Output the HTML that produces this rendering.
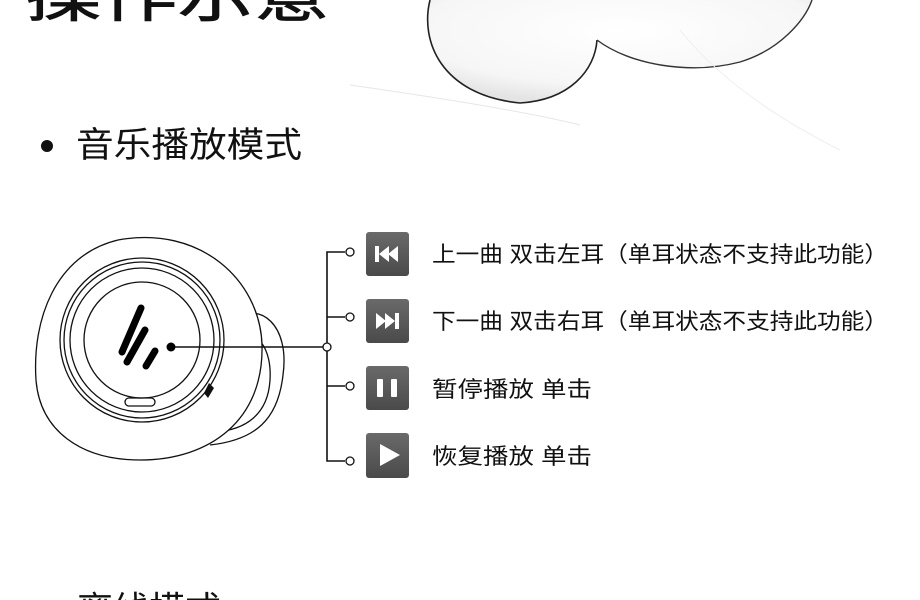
<!DOCTYPE html>
<html><head><meta charset="utf-8"><style>
html,body{margin:0;padding:0;background:#fff;overflow:hidden;}
body{width:920px;height:600px;overflow:hidden;position:relative;font-family:"Liberation Sans","Noto Sans CJK SC",sans-serif;}
svg{overflow:hidden;display:block}
</style></head><body>
<svg width="920" height="600" viewBox="0 0 920 600" xmlns="http://www.w3.org/2000/svg" style="position:absolute;left:0;top:0">
<defs>
<linearGradient id="g" x1="0" y1="0" x2="0" y2="1"><stop offset="0" stop-color="#6a6a6a"/><stop offset="1" stop-color="#4a4a4a"/></linearGradient>
<radialGradient id="sk" cx="0.5" cy="0.3" r="0.7"><stop offset="0" stop-color="#fff"/><stop offset="0.75" stop-color="#f6f6f6"/><stop offset="1" stop-color="#e4e4e4"/></radialGradient>
</defs>
<g font-family="Liberation Sans, Noto Sans CJK SC, sans-serif">
<text x="25" y="16" font-size="58" fill="#111" stroke="#111" stroke-width="0.8" textLength="305" lengthAdjust="spacingAndGlyphs">操作示意</text>
<!-- sketch -->
<path d="M430 0 C420 40 440 95 520 103 C570 100 595 70 597 40 C630 65 690 75 740 62 C780 50 805 20 812 0 Z" fill="url(#sk)" stroke="none"/>
<path d="M430 0 C420 40 440 95 520 103 C570 100 595 70 597 40" fill="none" stroke="#222" stroke-width="1.6"/>
<path d="M597 40 C630 65 690 75 740 62 C780 50 805 20 812 0" fill="none" stroke="#333" stroke-width="1.4"/>
<path d="M350 85 C420 95 520 110 580 125" fill="none" stroke="#e6e6e6" stroke-width="1"/>
<path d="M680 30 C720 80 780 120 840 150" fill="none" stroke="#eee" stroke-width="1"/>
<circle cx="47" cy="146" r="6" fill="#111"/>
<text x="76" y="157" font-size="35" fill="#111" textLength="226" lengthAdjust="spacingAndGlyphs">音乐播放模式</text>
<!-- earbud -->
<g fill="none" stroke="#111" stroke-width="1.3">
<path d="M232 320 C260 300 290 325 283 375 C278 420 255 440 210 445" fill="#fff"/>
<path d="M230 335 C258 325 272 350 270 380 C268 415 245 430 215 432"/>
<path d="M118 240 C200 225 260 280 262 345 C264 420 210 460 140 460 C80 460 40 430 36 380 C32 320 55 255 118 240 Z" fill="#fff"/>
<circle cx="142" cy="340" r="82"/>
<circle cx="142" cy="340" r="78"/>
<circle cx="142" cy="340" r="72"/>
<circle cx="142" cy="340" r="58"/>
<rect x="125" y="398" width="30" height="8" rx="4"/>
</g>
<path d="M209 383 L214 388 L208 398 L204 393 Z" fill="#111"/>
<g stroke="#000" stroke-width="7" stroke-linecap="round">
<line x1="141" y1="308" x2="122" y2="352"/>
<line x1="145" y1="330" x2="127" y2="362"/>
<line x1="155" y1="351" x2="146" y2="366"/>
</g>
<circle cx="171" cy="347" r="4.5" fill="#000"/>
<!-- connectors -->
<g stroke="#111" stroke-width="1.6" fill="none">
<line x1="175" y1="347" x2="324" y2="347"/>
<polyline points="345,252 327,252 327,461 345,461"/>
<line x1="327" y1="317" x2="345" y2="317"/>
<line x1="327" y1="386" x2="345" y2="386"/>
</g>
<g stroke="#111" stroke-width="1.3" fill="#fff">
<circle cx="350" cy="252" r="4"/><circle cx="350" cy="317" r="4"/><circle cx="350" cy="386" r="4"/><circle cx="350" cy="461" r="4"/><circle cx="327" cy="347" r="4"/>
</g>
<!-- icons -->
<g fill="url(#g)">
<rect x="366" y="232" width="43" height="44" rx="3"/>
<rect x="366" y="299" width="43" height="44" rx="3"/>
<rect x="366" y="366" width="43" height="44" rx="3"/>
<rect x="366" y="433" width="43" height="45" rx="3"/>
</g>
<g fill="#fff">
<rect x="375" y="246" width="4" height="16"/><polygon points="379,254 389,246 389,262"/><polygon points="388,254 398,246 398,262"/>
<polygon points="376,313 386,321 376,329"/><polygon points="385,313 395,321 385,329"/><rect x="395" y="313" width="4" height="16"/>
<rect x="377" y="379" width="6" height="18" rx="1"/><rect x="391" y="379" width="6" height="18" rx="1"/>
<polygon points="380,444 400,455 380,466"/>
</g>
<g font-size="22" fill="#111">
<text x="432" y="262" textLength="456" lengthAdjust="spacingAndGlyphs">上一曲 双击左耳（单耳状态不支持此功能）</text>
<text x="432" y="329" textLength="456" lengthAdjust="spacingAndGlyphs">下一曲 双击右耳（单耳状态不支持此功能）</text>
<text x="432" y="397" textLength="160" lengthAdjust="spacingAndGlyphs">暂停播放 单击</text>
<text x="432" y="464" textLength="160" lengthAdjust="spacingAndGlyphs">恢复播放 单击</text>
</g>
<text x="77" y="622" font-size="36" fill="#111">离线模式</text>
</g>
</svg>
</body></html>
